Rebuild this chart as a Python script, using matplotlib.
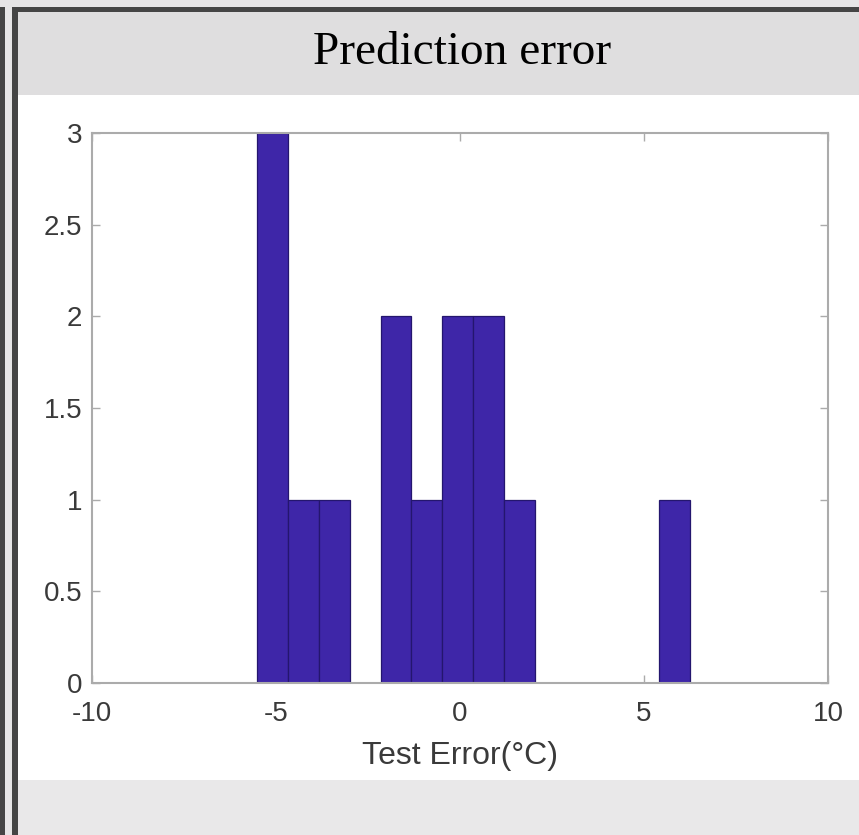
import numpy as np
import matplotlib
matplotlib.use("Agg")
import matplotlib.pyplot as plt
from matplotlib.patches import Rectangle

# histogram of test errors (bins)
bin_left = -5.52
bin_width = 0.84
counts = [3, 1, 1, 0, 2, 1, 2, 2, 1, 0, 0, 0, 0, 1]

xticks = [-10, -5, 0, 5, 10]
yticks = [0, 0.5, 1, 1.5, 2, 2.5, 3]
ytick_labels = ["0", "0.5", "1", "1.5", "2", "2.5", "3"]

title = "Prediction error"
xlabel = "Test Error(\u00b0C)"

W, H = 859, 835
fig = plt.figure(figsize=(W / 100, H / 100), dpi=100)
fig.patch.set_facecolor("#e6e5e6")

def frect(x0, y0, x1, y1, color, z=0):
    # rectangle given in pixel coords from top-left
    fig.patches.append(Rectangle((x0 / W, 1 - y1 / H), (x1 - x0) / W, (y1 - y0) / H,
                                 transform=fig.transFigure, facecolor=color,
                                 edgecolor="none", zorder=z))

# slide background
frect(18, 12, W, 95, "#dfdedf")
frect(18, 95, W, 780, "#ffffff")
frect(18, 780, W, H, "#e9e8e9")
# dark frame lines
frect(0, 7, 5, H, "#454545", 2)
frect(12, 7, 18, H, "#454545", 2)
frect(12, 7, W, 12, "#454545", 2)

fig.text(462 / W, 1 - 64 / H, title, fontfamily="Liberation Serif", fontsize=34,
         ha="center", va="baseline", color="black")

ax = fig.add_axes([92 / W, 1 - 683 / H, (828 - 92) / W, (683 - 133) / H])
ax.set_zorder(5)
ax.set_facecolor("white")

edges = bin_left + bin_width * np.arange(len(counts) + 1)
lefts = [edges[i] for i in range(len(counts)) if counts[i] > 0]
heights = [c for c in counts if c > 0]
ax.bar(lefts, heights, width=bin_width, align="edge", color="#3e26a8",
       edgecolor="#24166e", linewidth=0.9, zorder=2)

ax.set_xlim(-10, 10)
ax.set_ylim(0, 3)
ax.set_xticks(xticks)
ax.set_xticklabels([str(t) for t in xticks])
ax.set_yticks(yticks)
ax.set_yticklabels(ytick_labels)

for s in ax.spines.values():
    s.set_color("#ababab")
    s.set_linewidth(1.5)
    s.set_zorder(3)

ax.tick_params(direction="in", length=6, width=1, color="#ababab",
               top=True, right=True, labelsize=20, labelcolor="#3a3a3a",
               labelfontfamily="Liberation Sans")
ax.tick_params(axis="x", pad=13)
ax.tick_params(axis="y", pad=7)

ax.set_xlabel(xlabel, fontsize=23, color="#3a3a3a", fontfamily="Liberation Sans")
ax.xaxis.set_label_coords(0.5, -0.105)
ax.xaxis.label.set_va("top")

fig.savefig("out.png", dpi=100)
